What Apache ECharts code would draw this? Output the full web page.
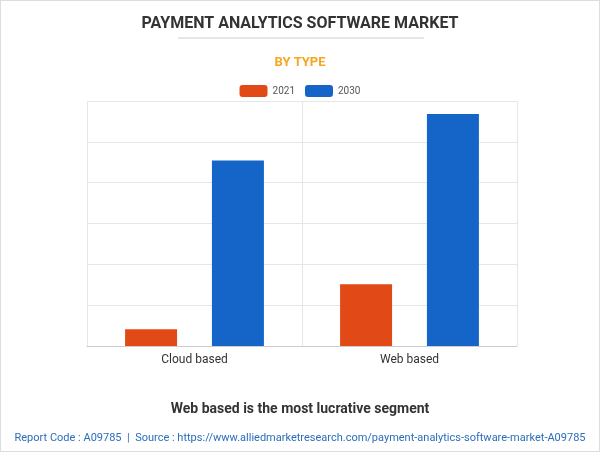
<!DOCTYPE html>
<html>
<head>
<meta charset="utf-8">
<script src="https://cdn.jsdelivr.net/npm/echarts@6/dist/echarts.min.js"></script>
<style>
  html, body { margin: 0; padding: 0; background: #fff; }
  #chart { width: 598px; height: 450px; border: 1px solid #ddd; }
</style>
</head>
<body>
<div id="chart"></div>
<script>
// data (no y labels shown, arbitrary units)
var categories = ['Cloud based', 'Web based']
var values2021 = [0.41, 1.51]
var values2030 = [4.54, 5.68]

var chart = echarts.init(document.getElementById('chart'))
chart.setOption({
  animation: false,
  title: [
    { text: 'PAYMENT ANALYTICS SOFTWARE MARKET', left: 'center', top: 10,
      textStyle: { fontFamily: 'Roboto', fontWeight: 'bold', fontSize: 16, color: '#333' } },
    { text: 'BY TYPE', left: 'center', top: 50,
      textStyle: { fontFamily: 'Roboto', fontWeight: 'bold', fontSize: 13, color: '#f5a623' } },
    { text: 'Web based is the most lucrative segment', left: 'center', top: 396,
      textStyle: { fontFamily: 'Roboto', fontWeight: 'bold', fontSize: 14, color: '#333' } },
    { text: 'Report Code : A09785  |  Source : https://www.alliedmarketresearch.com/payment-analytics-software-market-A09785',
      left: 'center', top: 427,
      textStyle: { fontFamily: 'Roboto', fontWeight: 'normal', fontSize: 11, color: '#2a6ebb' } }
  ],
  graphic: [{ type: 'line', shape: { x1: 177, y1: 37, x2: 423, y2: 37 }, style: { stroke: '#ccc', lineWidth: 1 } }],
  legend: {
    top: 79, left: 'center', itemWidth: 28, itemHeight: 12, itemGap: 10,
    textStyle: { fontFamily: 'Roboto', fontSize: 10, color: '#555' },
    data: ['2021', '2030']
  },
  grid: { left: 86, right: 82, top: 100, bottom: 105 },
  xAxis: {
    type: 'category', data: categories,
    axisTick: { show: false },
    axisLine: { lineStyle: { color: '#ccc' } },
    axisLabel: { fontFamily: 'Roboto', fontSize: 12, color: '#333' },
    splitLine: { show: true, lineStyle: { color: '#e6e6e6' } }
  },
  yAxis: {
    type: 'value', min: 0, max: 6, interval: 1,
    axisLabel: { show: false }, axisLine: { show: false }, axisTick: { show: false },
    splitLine: { lineStyle: { color: '#e6e6e6' } }
  },
  series: [
    { name: '2021', type: 'bar', data: values2021, barWidth: 52, barGap: '67%', itemStyle: { color: '#e14a16' } },
    { name: '2030', type: 'bar', data: values2030, barWidth: 52, itemStyle: { color: '#1565c8' } }
  ]
})
</script>
</body>
</html>
